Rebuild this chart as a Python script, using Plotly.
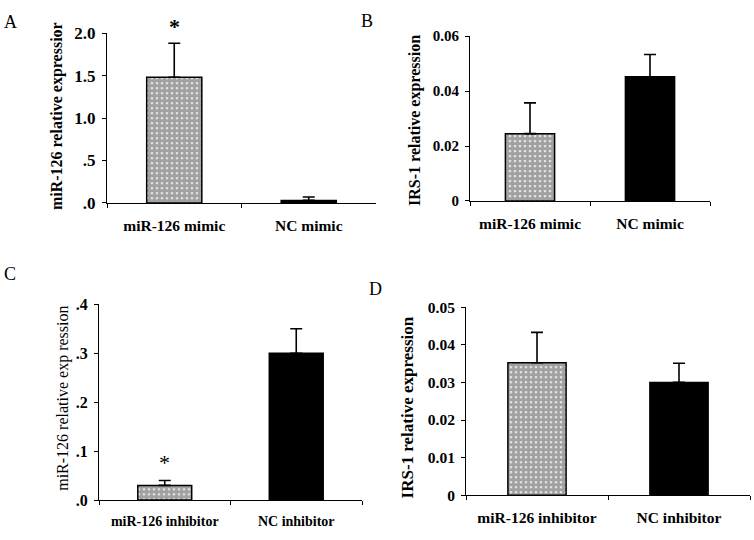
import plotly.graph_objects as go

# ---------------- data ----------------
cats_A = ["miR-126 mimic", "NC mimic"]
vals_A = [1.48, 0.03]
errs_A = [0.40, 0.04]

cats_B = ["miR-126 mimic", "NC mimic"]
vals_B = [0.0245, 0.0452]
errs_B = [0.0112, 0.0081]

cats_C = ["miR-126 inhibitor", "NC inhibitor"]
vals_C = [0.03, 0.30]
errs_C = [0.01, 0.05]

cats_D = ["miR-126 inhibitor", "NC inhibitor"]
vals_D = [0.0352, 0.0300]
errs_D = [0.0081, 0.0051]

yticks_A = [0, 0.5, 1.0, 1.5, 2.0]
ytext_A = [".0", ".5", "1.0", "1.5", "2.0"]
yticks_B = [0, 0.02, 0.04, 0.06]
ytext_B = ["0", "0.02", "0.04", "0.06"]
yticks_C = [0, 0.1, 0.2, 0.3, 0.4]
ytext_C = [".0", ".1", ".2", ".3", ".4"]
yticks_D = [0, 0.01, 0.02, 0.03, 0.04, 0.05]
ytext_D = ["0", "0.01", "0.02", "0.03", "0.04", "0.05"]

W, H = 754, 540
FONT = "Liberation Serif"

def px_x(p):
    return p / W

def px_y(p):
    return 1 - p / H

panels = [
    dict(c=cats_A, v=vals_A, e=errs_A, xd=(107, 376), yd=(201, 25), yr=[0, 2.0],
         tv=yticks_A, tt=ytext_A, tfs=17, xfs=15.5),
    dict(c=cats_B, v=vals_B, e=errs_B, xd=(470, 710), yd=(199, 28), yr=[0, 0.06],
         tv=yticks_B, tt=ytext_B, tfs=15, xfs=15.5),
    dict(c=cats_C, v=vals_C, e=errs_C, xd=(99, 362), yd=(509, 306), yr=[0, 0.4],
         tv=yticks_C, tt=ytext_C, tfs=16, xfs=14),
    dict(c=cats_D, v=vals_D, e=errs_D, xd=(466, 750), yd=(504, 309), yr=[0, 0.05],
         tv=yticks_D, tt=ytext_D, tfs=15.5, xfs=15.5),
]

fig = go.Figure()
layout = dict(
    width=W, height=H,
    margin=dict(l=0, r=0, t=0, b=0),
    paper_bgcolor="white", plot_bgcolor="white",
    showlegend=False,
    font=dict(family=FONT, color="black"),
)

for i, p in enumerate(panels):
    n = "" if i == 0 else str(i + 1)
    fig.add_trace(go.Bar(
        x=p["c"], y=p["v"], width=0.41,
        xaxis="x" + n, yaxis="y" + n,
        marker=dict(
            color=["white", "black"],
            line=dict(color="black", width=1.5),
            pattern=dict(shape=[".", ""], fgcolor="black", bgcolor="white",
                         size=5, solidity=0.8),
        ),
        error_y=dict(type="data", symmetric=False, array=p["e"], arrayminus=[0, 0],
                     color="black", thickness=1.6, width=6),
    ))
    layout["xaxis" + n] = dict(
        domain=[px_x(p["xd"][0]), px_x(p["xd"][1])],
        anchor="y" + n, type="category", range=[-0.5, 1.5],
        tickson="boundaries", ticks="outside", ticklen=4, tickcolor="black",
        showline=True, linecolor="black", linewidth=1, showgrid=False,
        tickfont=dict(family=FONT, size=p["xfs"], color="black", weight="bold"),
        ticklabelstandoff=8, fixedrange=True,
    )
    layout["yaxis" + n] = dict(
        domain=[px_y(p["yd"][0]), px_y(p["yd"][1])],
        anchor="x" + n, range=p["yr"],
        tickvals=p["tv"], ticktext=p["tt"],
        ticks="outside", ticklen=4, tickcolor="black",
        showline=True, linecolor="black", linewidth=1,
        showgrid=False, zeroline=False,
        tickfont=dict(family=FONT, size=p["tfs"], color="black", weight="bold"),
        ticklabelstandoff=3, fixedrange=True,
    )

annotations = []
for letter, x, y in [("A", 10, 13), ("B", 367, 12), ("C", 10, 275), ("D", 375, 290)]:
    annotations.append(dict(text=letter, x=px_x(x), y=px_y(y), xref="paper", yref="paper",
                            showarrow=False, xanchor="center", yanchor="middle",
                            font=dict(family=FONT, size=18, color="black")))
for t, x, y, sz, wt in [
    ("miR-126 relative expressior", 57, 111, 16, "bold"),
    ("IRS-1 relative expression", 415, 116, 16, "bold"),
    ("miR-126 relative exp ression", 63, 404, 16, "normal"),
    ("IRS-1 relative expression", 407, 413, 17, "bold"),
]:
    annotations.append(dict(text=t, x=px_x(x), y=px_y(y), xref="paper", yref="paper",
                            showarrow=False, textangle=-90, xanchor="center", yanchor="middle",
                            font=dict(family=FONT, size=sz, color="black", weight=wt)))
annotations.append(dict(text="*", x=cats_A[0], y=vals_A[0] + errs_A[0], xref="x", yref="y",
                        showarrow=False, yanchor="bottom", yshift=2,
                        font=dict(family=FONT, size=22, color="black", weight="bold")))
annotations.append(dict(text="*", x=cats_C[0], y=vals_C[0] + errs_C[0], xref="x3", yref="y3",
                        showarrow=False, yanchor="bottom", yshift=4,
                        font=dict(family=FONT, size=22, color="black")))

layout["annotations"] = annotations
fig.update_layout(**layout)
fig.write_html("out.html", config={"displayModeBar": False},
               post_script="document.body.style.margin='0px';")
